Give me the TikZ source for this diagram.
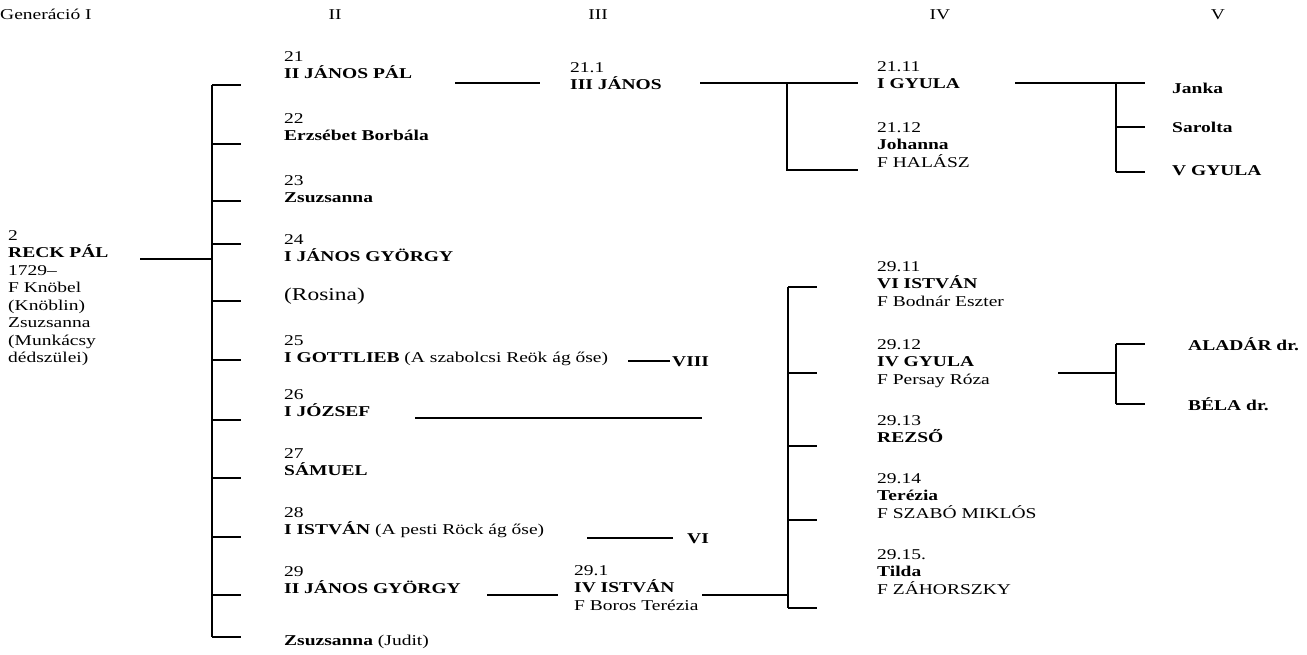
\documentclass[tikz,border=0pt]{standalone}
\usepackage{fontspec}
\setmainfont{Liberation Serif}[FakeStretch=1.3]
\usepackage{tikz}
\tikzset{
	person/.style={anchor=north west, align=left, inner sep=0pt, font=\fontsize{15}{17.5}\selectfont},
	gen/.style={anchor=base, inner sep=0pt, font=\fontsize{15}{17.5}\selectfont},
	kid/.style={anchor=base west, inner sep=0pt, font=\fontsize{15}{17.5}\selectfont\bfseries},
	branch/.style={line width=1.5pt},
}

\begin{document}
\begin{tikzpicture}[x=1pt,y=-1pt]
		\useasboundingbox (0,0) rectangle (1307,655);
		
		% generations
		\node[gen, anchor=base west] (gI) at (0,20) {Generáció I};
		\node[gen] (gII) at (335,20) {II};
		\node[gen] (gIII) at (598,20) {III};
		\node[gen] (gIV) at (940,20) {IV};
		\node[gen] (gV) at (1218,20) {V};
		
		% I
		\node[person] (p2) at (8,230) {2\\\textbf{RECK PÁL}\\1729–\\F Knöbel\\(Knöblin)\\Zsuzsanna\\(Munkácsy\\dédszülei)};
		
		% II
		\node[person] (p21) at (284,51) {21\\\textbf{II JÁNOS PÁL}};
		\node[person] (p22) at (284,113) {22\\\textbf{Erzsébet Borbála}};
		\node[person] (p23) at (284,175) {23\\\textbf{Zsuzsanna}};
		\node[person] (p24) at (284,234) {24\\\textbf{I JÁNOS GYÖRGY}};
		\node[gen, anchor=base west, font=\fontsize{18}{20}\selectfont] (rosina) at (284,301) {(Rosina)};
		\node[person] (p25) at (284,335) {25\\\textbf{I GOTTLIEB} (A szabolcsi Reök ág őse)};
		\node[person] (p26) at (284,389) {26\\\textbf{I JÓZSEF}};
		\node[person] (p27) at (284,448) {27\\\textbf{SÁMUEL}};
		\node[person] (p28) at (284,507) {28\\\textbf{I ISTVÁN} (A pesti Röck ág őse)};
		\node[person] (p29) at (284,566) {29\\\textbf{II JÁNOS GYÖRGY}};
		\node[person] (p2z) at (284,635) {\textbf{Zsuzsanna} (Judit)};
		\node[kid] (viii) at (672,366) {VIII};
		\node[kid] (vi) at (687,543) {VI};
		
		% III
		\node[person] (p211) at (570,62) {21.1\\\textbf{III JÁNOS}};
		\node[person] (p291) at (574,565) {29.1\\\textbf{IV ISTVÁN}\\F Boros Terézia};
		
		% IV
		\node[person] (p2111) at (877,61) {21.11\\\textbf{I GYULA}};
		\node[person] (p2112) at (877,122) {21.12\\\textbf{Johanna}\\F HALÁSZ};
		\node[person] (p2911) at (877,261) {29.11\\\textbf{VI ISTVÁN}\\F Bodnár Eszter};
		\node[person] (p2912) at (877,339) {29.12\\\textbf{IV GYULA}\\F Persay Róza};
		\node[person] (p2913) at (877,415) {29.13\\\textbf{REZSŐ}};
		\node[person] (p2914) at (877,473) {29.14\\\textbf{Terézia}\\F SZABÓ MIKLÓS};
		\node[person] (p2915) at (877,549) {29.15.\\\textbf{Tilda}\\F ZÁHORSZKY};
		
		% V
		\node[kid] (janka) at (1172,94) {Janka};
		\node[kid] (sarolta) at (1172,133) {Sarolta};
		\node[kid] (vgyula) at (1172,176) {V GYULA};
		\node[kid] (aladar) at (1188,350) {ALADÁR dr.};
		\node[kid] (bela) at (1188,410) {BÉLA dr.};
		
		% brackets
		\coordinate (c2) at (140,259);
		\coordinate (b2top) at (212,85);
		\coordinate (b2bot) at (212,637);
		\coordinate (t21) at (241,85);
		\coordinate (t22) at (241,144);
		\coordinate (t23) at (241,201);
		\coordinate (t24) at (241,244);
		\coordinate (tro) at (241,301);
		\coordinate (t25) at (241,360);
		\coordinate (t26) at (241,420);
		\coordinate (t27) at (241,478);
		\coordinate (t28) at (241,537);
		\coordinate (t29) at (241,595);
		\coordinate (t2z) at (241,637);
		\draw[branch] (c2) -- (b2top |- c2);
		\draw[branch] (b2top) -- (b2bot);
		\foreach \t in {t21,t22,t23,t24,tro,t25,t26,t27,t28,t29,t2z}
			\draw[branch] (b2top |- \t) -- (\t);
		
		\coordinate (c21) at (455,83);
		\draw[branch] (c21) -- (540,83);
		\draw[branch] ([xshift=-2pt]viii.west) -- ++(-42,0);
		\coordinate (c26) at (415,418);
		\draw[branch] (c26) -- (702,418);
		\draw[branch] ([xshift=-14pt]vi.west) -- ++(-86,0);
		\coordinate (c29) at (487,595);
		\draw[branch] (c29) -- (558,595);
		
		\coordinate (c211) at (700,83);
		\coordinate (b211) at (787,83);
		\draw[branch] (c211) -- (858,83);
		\draw[branch] (b211) -- (787,170) -- (858,170);
		
		\coordinate (c291) at (702,595);
		\coordinate (b291top) at (788,287);
		\coordinate (b291bot) at (788,608);
		\draw[branch] (c291) -- (b291top |- c291);
		\draw[branch] (b291top) -- (b291bot);
		\foreach \y in {287,373,446,520,608}
			\draw[branch] (788,\y) -- (817,\y);
		
		\coordinate (c2111) at (1015,83);
		\coordinate (b2111) at (1116,83);
		\draw[branch] (c2111) -- (1145,83);
		\draw[branch] (b2111) -- (1116,172);
		\foreach \y in {127,172}
			\draw[branch] (1116,\y) -- (1145,\y);
		
		\coordinate (c2912) at (1058,373);
		\coordinate (b2912top) at (1116,344);
		\coordinate (b2912bot) at (1116,404);
		\draw[branch] (c2912) -- (b2912top |- c2912);
		\draw[branch] (b2912top) -- (b2912bot);
		\foreach \y in {344,404}
			\draw[branch] (1116,\y) -- (1145,\y);
	\end{tikzpicture}
\end{document}
